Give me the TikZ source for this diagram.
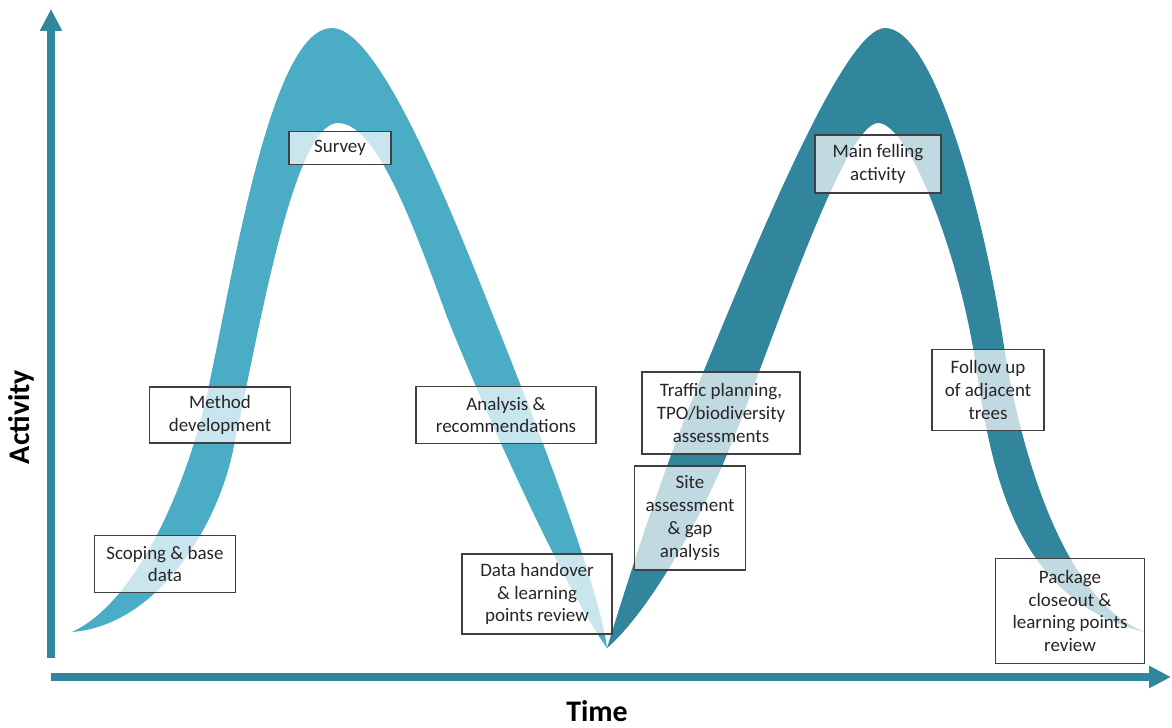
\documentclass[tikz,border=0pt]{standalone}
\usepackage{fontspec}
\setmainfont{Carlito}
\usepackage{tikz}
\usetikzlibrary{arrows.meta,positioning}
\definecolor{humpA}{HTML}{4BACC6}
\definecolor{humpB}{HTML}{31859C}
\definecolor{boxline}{HTML}{404040}
\newcommand{\boxfont}{\fontsize{10.8}{13}\selectfont}
\newcommand{\axisfont}{\fontsize{17}{20}\selectfont\bfseries}

\begin{document}
\begin{tikzpicture}[x=0.02cm, y=-0.02cm]
            \tikzset{stage/.style = {draw=boxline, line width=0.7pt, fill=white, fill opacity=0.7,
                                     text opacity=1, text=black!85, align=center, font=\boxfont, inner sep=2pt}}
            \tikzset{axis/.style = {draw=humpB, line width=4pt, -{Triangle[length=0.44cm, width=0.42cm]}}}
            \useasboundingbox (0,0) rectangle (1172,727);

            % survey hump
            \fill[humpA] (72,632) .. controls (145,598) and (195,460) .. (210,380)
                .. controls (235,263) and (272,28) .. (332,28)
                .. controls (382,28) and (460,233) .. (500,333)
                .. controls (540,433) and (600,590) .. (607,648)
                .. controls (565,590) and (487,417) .. (447,317)
                .. controls (410,215) and (375,123) .. (338,123)
                .. controls (293,123) and (259,333) .. (235,440)
                .. controls (222,520) and (160,625) .. (72,632) -- cycle;

            % felling hump
            \fill[humpB] (607,648) .. controls (625,590) and (659,480) .. (700,380)
                .. controls (761,232) and (845,28) .. (885,28)
                .. controls (935,28) and (985,220) .. (1003,340)
                .. controls (1018,440) and (1060,600) .. (1145,632)
                .. controls (1010,600) and (990,460) .. (975,360)
                .. controls (960,260) and (910,123) .. (878,123)
                .. controls (845,123) and (773,340) .. (733,440)
                .. controls (693,540) and (640,620) .. (607,648) -- cycle;

            % axes
            \coordinate (ybase) at (51,658);
            \coordinate (ytip) at (51,9);
            \coordinate (xbase) at (51,677);
            \coordinate (xtip) at (1171,677);
            \draw[axis] (ybase) -- (ytip);
            \draw[axis] (xbase) -- (xtip);
            \node[rotate=90, font=\axisfont] (activity) at (21,417) {Activity};
            \node[font=\axisfont] (time) at (597,711) {Time};

            % stages
            \node[stage, minimum width=2.82cm, minimum height=1.14cm] (scoping) at (165,564) {Scoping \& base\\data};
            \node[stage, minimum width=2.82cm, minimum height=1.12cm] (method) at (220,415) {Method\\development};
            \node[stage, minimum width=2.04cm, minimum height=0.66cm] (survey) at (340,148) {Survey};
            \node[stage, minimum width=3.60cm, minimum height=1.14cm] (analysis) at (506,415) {Analysis \&\\recommendations};
            \node[stage, minimum width=3.00cm, minimum height=1.60cm] (handover) at (537,594) {Data handover\\\& learning\\points review};
            \node[stage, minimum width=3.16cm, minimum height=1.64cm] (traffic) at (721,413) {Traffic planning,\\TPO/biodiversity\\assessments};
            \node[stage, minimum width=2.22cm, minimum height=2.08cm] (site) at (690,518) {Site\\assessment\\\& gap\\analysis};
            \node[stage, minimum width=2.52cm, minimum height=1.16cm] (felling) at (878,164) {Main felling\\activity};
            \node[stage, minimum width=2.24cm, minimum height=1.62cm] (followup) at (988,390) {Follow up\\of adjacent\\trees};
            \node[stage, minimum width=2.98cm, minimum height=2.10cm] (closeout) at (1070,611) {Package\\closeout \&\\learning points\\review};
            %\draw[dashed] (xbase) rectangle (1172,0);
\end{tikzpicture}
\end{document}
